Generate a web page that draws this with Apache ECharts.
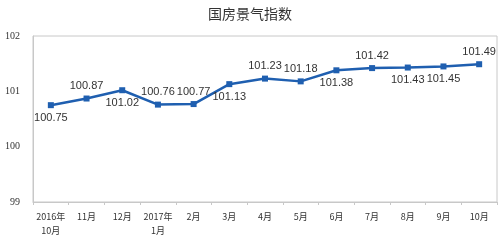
<!DOCTYPE html>
<html><head><meta charset="utf-8">
<script src="https://cdn.jsdelivr.net/npm/echarts@6/dist/echarts.min.js"></script>
<style>html,body{margin:0;padding:0;background:#fff}#c{width:500px;height:240px}</style>
</head><body><div id="c"></div>
<script>
var categories = ['2016年\n10月','11月','12月','2017年\n1月','2月','3月','4月','5月','6月','7月','8月','9月','10月'];
var values = [100.75,100.87,101.02,100.76,100.77,101.13,101.23,101.18,101.38,101.42,101.43,101.45,101.49];
var labelPos = ['bottom','top','bottom','top','top','bottom','top','top','bottom','top','bottom','bottom','top'];
var yTicks = [99,100,101,102];

var chart = echarts.init(document.getElementById('c'));
chart.setOption({
  animation:false,
  title:{text:'国房景气指数',left:'center',top:2,textStyle:{fontFamily:'Noto Sans CJK SC',fontSize:14,fontWeight:'normal',color:'#333'}},
  grid:{left:33,right:3,top:36,bottom:38,show:true,borderColor:'#c8c8c8',borderWidth:1},
  xAxis:{type:'category',data:categories,boundaryGap:true,
    axisLine:{lineStyle:{color:'#c8c8c8'}},
    axisTick:{show:true,length:3,lineStyle:{color:'#c8c8c8'}},
    axisLabel:{fontFamily:'Noto Sans CJK SC',fontSize:9,color:'#333',margin:8,lineHeight:14,interval:0}},
  yAxis:{type:'value',min:yTicks[0],max:yTicks[yTicks.length-1],interval:1,
    splitLine:{show:false},
    axisLine:{show:true,lineStyle:{color:'#c8c8c8'}},
    axisTick:{show:false},
    axisLabel:{fontFamily:'Liberation Serif',fontSize:10,color:'#333',margin:13}},
  series:[{type:'line',
    data:values.map(function(v,i){return {value:v,label:{position:labelPos[i]}};}),
    symbol:'rect',symbolSize:6,
    lineStyle:{color:'#1f5fb0',width:2.5},
    itemStyle:{color:'#1f5fb0'},
    label:{show:true,fontFamily:'Liberation Sans',fontSize:11,color:'#333',distance:4,
      formatter:function(p){return p.value.toFixed(2);}}
  }]
});
</script></body></html>
